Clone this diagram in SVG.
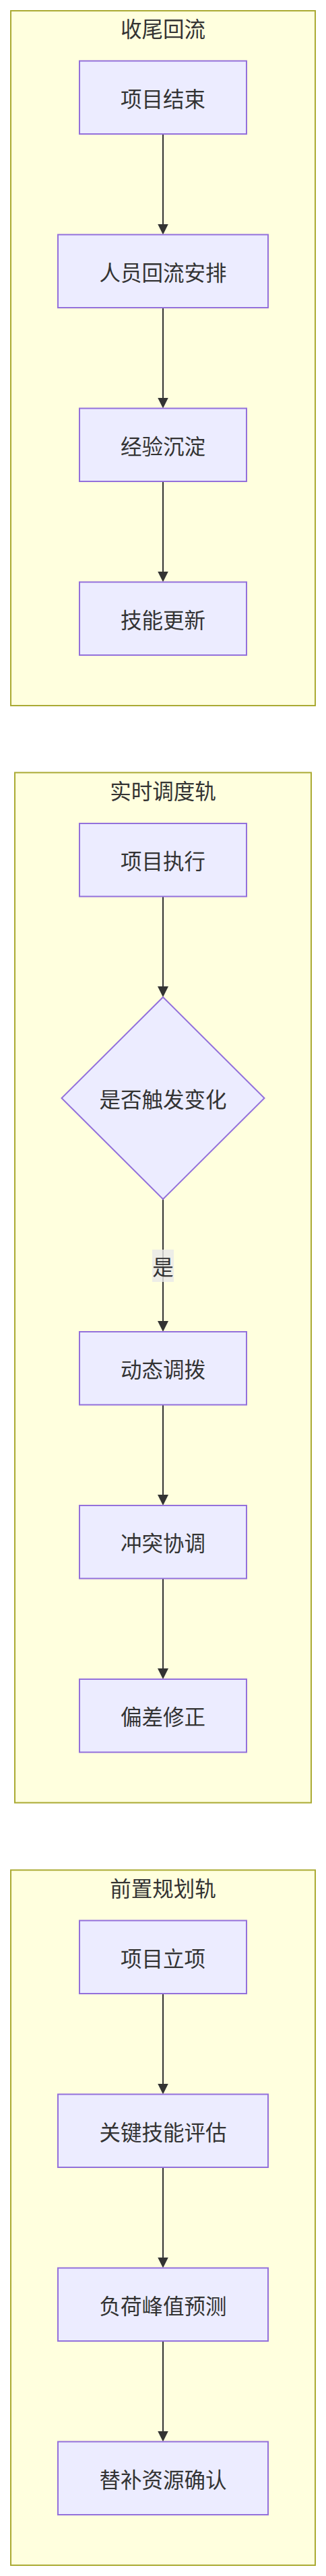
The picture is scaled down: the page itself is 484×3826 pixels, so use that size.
<svg xmlns="http://www.w3.org/2000/svg" width="484" height="3826" viewBox="0 0 484 3826">
<style>
.cluster{fill:#ffffde;stroke:#aaaa33;stroke-width:2}
.node{fill:#ececff;stroke:#9370db;stroke-width:2}
.edge{stroke:#333333;stroke-width:2;fill:none}
.t{font-family:"Noto Sans CJK SC","Noto Sans",sans-serif;font-size:31.5px;fill:#333333;text-anchor:middle;dominant-baseline:central}
.lbl{fill:rgba(232,232,232,0.8);stroke:none}
</style>
<defs>
<marker id="arrow" viewBox="0 0 10 10" refX="0.6" refY="5" markerWidth="16" markerHeight="16" markerUnits="userSpaceOnUse" orient="auto">
<path d="M0,0 L10,5 L0,10 z" fill="#333333"/>
</marker>
</defs>
<rect width="484" height="3826" fill="#ffffff"/>
<g id="sg-closing">
<rect class="cluster" x="16" y="16" width="452" height="1032"/>
<text class="t" x="242" y="41">收尾回流</text>
</g>
<g id="sg-realtime">
<rect class="cluster" x="22" y="1147.5" width="440" height="1530"/>
<text class="t" x="242" y="1172.5">实时调度轨</text>
</g>
<g id="sg-planning">
<rect class="cluster" x="16" y="2777.5" width="452" height="1032.5"/>
<text class="t" x="242" y="2802.5">前置规划轨</text>
</g>
<g id="connectors">
<line class="edge" x1="242" y1="199" x2="242" y2="333.5" marker-end="url(#arrow)"/>
<line class="edge" x1="242" y1="457" x2="242" y2="591.5" marker-end="url(#arrow)"/>
<line class="edge" x1="242" y1="715" x2="242" y2="849.5" marker-end="url(#arrow)"/>
<line class="edge" x1="242" y1="1331.5" x2="242" y2="1466" marker-end="url(#arrow)"/>
<line class="edge" x1="242" y1="1781" x2="242" y2="1963" marker-end="url(#arrow)"/>
<line class="edge" x1="242" y1="2086.5" x2="242" y2="2221" marker-end="url(#arrow)"/>
<line class="edge" x1="242" y1="2344.5" x2="242" y2="2479" marker-end="url(#arrow)"/>
<line class="edge" x1="242" y1="2961" x2="242" y2="3095.5" marker-end="url(#arrow)"/>
<line class="edge" x1="242" y1="3219" x2="242" y2="3353.5" marker-end="url(#arrow)"/>
<line class="edge" x1="242" y1="3477" x2="242" y2="3611.5" marker-end="url(#arrow)"/>
<g id="edge-label-yes">
<rect class="lbl" x="226" y="1856" width="32" height="48"/>
<text class="t" x="242" y="1880">是</text>
</g>
</g>
<g id="n-project-end">
<rect class="node" x="118" y="90.5" width="248" height="108.5"/>
<text class="t" x="242" y="144.75">项目结束</text>
</g>
<g id="n-staff-return">
<rect class="node" x="86" y="348.5" width="312" height="108.5"/>
<text class="t" x="242" y="402.75">人员回流安排</text>
</g>
<g id="n-experience">
<rect class="node" x="118" y="606.5" width="248" height="108.5"/>
<text class="t" x="242" y="660.75">经验沉淀</text>
</g>
<g id="n-skill-update">
<rect class="node" x="118" y="864.5" width="248" height="108.5"/>
<text class="t" x="242" y="918.75">技能更新</text>
</g>
<g id="n-execution">
<rect class="node" x="118" y="1223" width="248" height="108.5"/>
<text class="t" x="242" y="1277.25">项目执行</text>
</g>
<g id="n-decision">
<polygon class="node" points="242,1481 392.5,1631 242,1781 91.5,1631"/>
<text class="t" x="242" y="1631">是否触发变化</text>
</g>
<g id="n-dynamic">
<rect class="node" x="118" y="1978" width="248" height="108.5"/>
<text class="t" x="242" y="2032.25">动态调拨</text>
</g>
<g id="n-conflict">
<rect class="node" x="118" y="2236" width="248" height="108.5"/>
<text class="t" x="242" y="2290.25">冲突协调</text>
</g>
<g id="n-deviation">
<rect class="node" x="118" y="2494" width="248" height="108.5"/>
<text class="t" x="242" y="2548.25">偏差修正</text>
</g>
<g id="n-initiation">
<rect class="node" x="118" y="2852.5" width="248" height="108.5"/>
<text class="t" x="242" y="2906.75">项目立项</text>
</g>
<g id="n-key-skill">
<rect class="node" x="86" y="3110.5" width="312" height="108.5"/>
<text class="t" x="242" y="3164.75">关键技能评估</text>
</g>
<g id="n-peak">
<rect class="node" x="86" y="3368.5" width="312" height="108.5"/>
<text class="t" x="242" y="3422.75">负荷峰值预测</text>
</g>
<g id="n-backup">
<rect class="node" x="86" y="3626.5" width="312" height="108.5"/>
<text class="t" x="242" y="3680.75">替补资源确认</text>
</g>
</svg>
